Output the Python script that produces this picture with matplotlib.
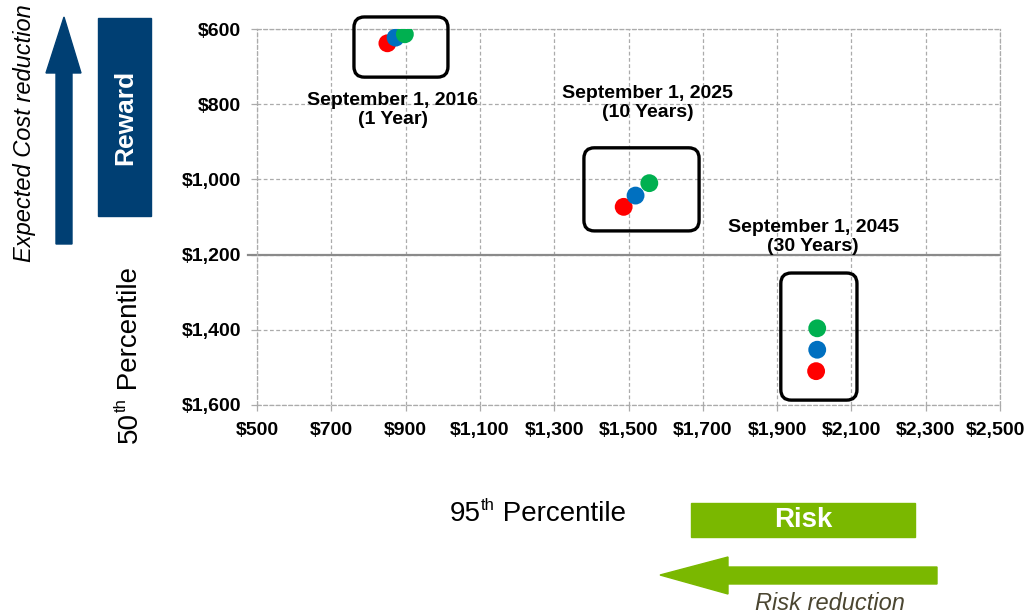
import numpy as np
import matplotlib
matplotlib.use('Agg')
import matplotlib.pyplot as plt
from matplotlib.patches import FancyBboxPatch, Polygon, Rectangle

plt.rcParams['font.family'] = ['Liberation Sans', 'DejaVu Sans']

# Data: 95th percentile (x) and 50th percentile (y) for each horizon
horizons = ['September 1, 2016\n(1 Year)', 'September 1, 2025\n(10 Years)', 'September 1, 2045\n(30 Years)']
red_x = [851, 1487, 2005]
red_y = [638, 1073, 1510]
blue_x = [873, 1519, 2008]
blue_y = [623, 1043, 1453]
green_x = [898, 1556, 2008]
green_y = [614, 1010, 1396]
x_ticks = [500, 700, 900, 1100, 1300, 1500, 1700, 1900, 2100, 2300, 2500]
y_ticks = [600, 800, 1000, 1200, 1400, 1600]

# label positions and boxes around each group (data units)
label_pos = [(866, 815), (1552, 797), (1997, 1152)]
boxes = [(761, 568, 1014, 728), (1380, 916, 1690, 1137), (1910, 1249, 2115, 1587)]

W, H = 1027, 616
fig = plt.figure(figsize=(W / 100, H / 100), dpi=100)
ax = fig.add_axes([257 / W, 1 - 405 / H, (1000 - 257) / W, (405 - 29) / H])
renderer = fig.canvas.get_renderer()

def px(x, y):
    return (x / W, 1 - y / H)

# text with a superscript, pieces laid along the baseline (pixel coords)
def sup_text(x0, y0, parts, rotation=0):
    pos = 0
    for text, size, rise in parts:
        if rotation == 0:
            tx, ty = x0 + pos, y0 - rise
        else:
            tx, ty = x0 - rise, y0 - pos
        t = fig.text(*px(tx, ty), text, fontsize=size, rotation=rotation,
                     rotation_mode='anchor', ha='left', va='baseline')
        bb = t.get_window_extent(renderer)
        pos += bb.width if rotation == 0 else bb.height

grid_col = '#ababab'
ax.set_xlim(500, 2500)
ax.set_ylim(1600, 600)
ax.set_xticks(x_ticks)
ax.set_yticks(y_ticks)
xlabels = ['${:,}'.format(v) for v in x_ticks]
# last x label is drawn separately, nudged left to stay inside the picture
ax.set_xticklabels(xlabels[:-1] + [''], fontweight='bold', fontsize=14)
ax.annotate(xlabels[-1], xy=(x_ticks[-1], 0), xycoords=ax.get_xaxis_transform(),
            xytext=(-3, -12), textcoords='offset points', ha='center', va='top',
            fontweight='bold', fontsize=14)
ax.set_yticklabels(['${:,}'.format(v) for v in y_ticks], fontweight='bold', fontsize=14)
ax.grid(True, color=grid_col, linestyle=(0, (3, 2)), linewidth=0.9)
for s in ax.spines.values():
    s.set_color(grid_col)
    s.set_linestyle((0, (3, 2)))
    s.set_linewidth(0.9)
ax.tick_params(axis='both', color=grid_col, length=4, width=0.9)
ax.tick_params(axis='y', pad=7.5)
ax.tick_params(axis='x', pad=8)
ax.set_axisbelow(True)

# horizontal axis crossing at $1,200
ax.plot([-0.012, 1], [1200, 1200], color='#8a8a8a', linewidth=1.6,
        transform=ax.get_yaxis_transform(), clip_on=False, zorder=2)

# Points
ax.scatter(red_x, red_y, s=165, color='#ff0000', edgecolors='none', zorder=4)
ax.scatter(blue_x, blue_y, s=165, color='#0070c0', edgecolors='none', zorder=5)
ax.scatter(green_x, green_y, s=165, color='#00b050', edgecolors='none', zorder=6)

# rounded boxes and labels
for (x0, y0, x1, y1) in boxes:
    ax.add_patch(FancyBboxPatch((x0, y0), x1 - x0, y1 - y0,
                                boxstyle='round,pad=0,rounding_size=28',
                                fill=False, edgecolor='black', linewidth=2.4,
                                clip_on=False, zorder=3))
for txt, (lx, ly) in zip(horizons, label_pos):
    ax.text(lx, ly, txt, ha='center', va='center', fontsize=14,
            fontweight='bold', linespacing=1.15, zorder=7)

# Left side: reward arrow and box
navy = '#003f73'
arrow_up = [(56, 244), (56, 73), (46, 73), (64, 17), (81, 73), (72, 73), (72, 244)]
fig.add_artist(Polygon([px(*p) for p in arrow_up], closed=True, color=navy,
                       transform=fig.transFigure))
fig.add_artist(Rectangle(px(98, 216), 53 / W, 198 / H, color=navy,
                         transform=fig.transFigure))
fig.text(*px(125, 117), 'Reward', rotation=90, ha='center', va='center',
         color='white', fontweight='bold', fontsize=19)
fig.text(*px(25, 133), 'Expected Cost reduction', rotation=90, ha='center',
         va='center', fontstyle='italic', fontsize=17)
sup_text(137, 443, [('50', 20, 0), ('th', 12, 11), (' Percentile', 20, 0)], rotation=90)

# Bottom: risk arrow and box
green = '#7ab800'
sup_text(450, 521, [('95', 20, 0), ('th', 12, 11), (' Percentile', 20, 0)])
fig.add_artist(Rectangle(px(691, 537), 224 / W, 34 / H, color=green,
                         transform=fig.transFigure))
fig.text(*px(803, 520), 'Risk', ha='center', va='center', color='white',
         fontweight='bold', fontsize=20)
arrow_left = [(937, 567), (728, 567), (728, 557), (660, 575), (728, 594), (728, 584), (937, 584)]
fig.add_artist(Polygon([px(*p) for p in arrow_left], closed=True, color=green,
                       transform=fig.transFigure))
fig.text(*px(830, 604), 'Risk reduction', ha='center', va='center',
         fontstyle='italic', fontsize=17, color='#4b4631')

fig.savefig('out.png', dpi=100)
